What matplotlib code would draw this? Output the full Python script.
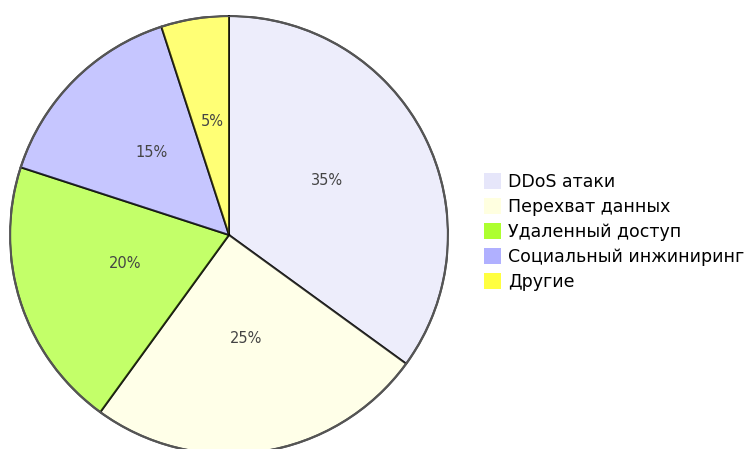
import matplotlib
matplotlib.use('Agg')
import matplotlib.pyplot as plt
from matplotlib.patches import Patch

labels = ['DDoS атаки', 'Перехват данных', 'Удаленный доступ',
          'Социальный инжиниринг', 'Другие']
values = [35, 25, 20, 15, 5]
colors = ['#E6E6FA', '#FFFFE0', '#ADFF2F', '#B0B0FF', '#FFFF40']

W, H = 745, 449
fig = plt.figure(figsize=(W / 100, H / 100), dpi=100)

cx, cy, r = 229, 235, 219
ax = fig.add_axes([(cx - r) / W, (H - cy - r) / H, 2 * r / W, 2 * r / H])

wedges, texts = ax.pie(values, colors=colors, startangle=90, counterclock=False,
                       radius=1, labels=[f'{v}%' for v in values], labeldistance=0.5,
                       wedgeprops=dict(edgecolor='black', linewidth=1.4, alpha=0.72),
                       textprops=dict(fontsize=10.5, color='#444444', ha='center', va='center'))
for w in wedges:
    w.set_edgecolor((0, 0, 0, 1))
# labels sit a few pixels above the slice centroid in the original
for t in texts:
    x, y = t.get_position()
    t.set_position((x, y + 5 / r))
ax.add_patch(plt.Circle((0, 0), 1, fill=False, ec='#555555', lw=1.6, zorder=5))
ax.set_xlim(-1, 1); ax.set_ylim(-1, 1)
ax.set_aspect('equal'); ax.axis('off')

handles = [Patch(facecolor=c, edgecolor='none') for c in colors]
fig.legend(handles, labels, loc='upper left', bbox_to_anchor=(484 / W, 1 - 173 / H),
           frameon=False, fontsize=12.5, handlelength=1.0, handleheight=1.0,
           handletextpad=0.4, labelspacing=0.4, borderpad=0, borderaxespad=0)

fig.savefig('out.png', dpi=100)
